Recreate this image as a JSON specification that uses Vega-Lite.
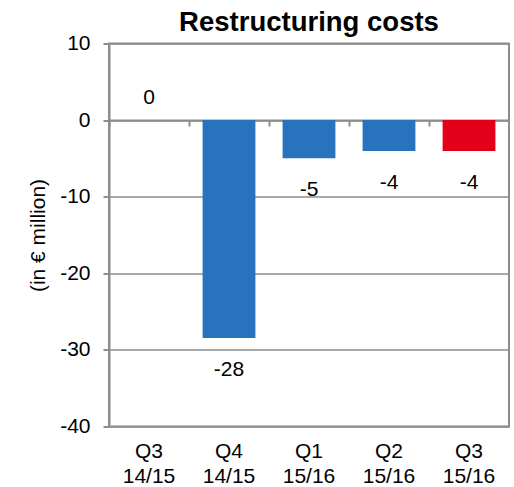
{
  "$schema": "https://vega.github.io/schema/vega-lite/v6.json",
  "autosize": "none",
  "width": 400,
  "height": 383,
  "padding": {"left": 109, "top": 43.5, "right": 5, "bottom": 60.5},
  "config": {
    "font": "Liberation Sans",
    "view": {"stroke": "#8c8c8c", "strokeWidth": 2}
  },
  "title": {
    "text": "Restructuring costs",
    "fontSize": 27.5,
    "fontWeight": "bold",
    "font": "Liberation Sans",
    "color": "#000000",
    "offset": 6,
    "dy": 10,
    "anchor": "middle"
  },
  "data": {
    "values": [
      {"q": "Q3 14/15", "v": 0, "label": "0", "grp": "past"},
      {"q": "Q4 14/15", "v": -28.45, "label": "-28", "grp": "past"},
      {"q": "Q1 15/16", "v": -4.97, "label": "-5", "grp": "past"},
      {"q": "Q2 15/16", "v": -4.05, "label": "-4", "grp": "past"},
      {"q": "Q3 15/16", "v": -4.05, "label": "-4", "grp": "current"}
    ]
  },
  "resolve": {"axis": {"x": "independent"}},
  "layer": [
    {
      "mark": {"type": "bar"},
      "encoding": {
        "x": {
          "field": "q", "type": "nominal", "sort": null,
          "scale": {"paddingInner": 0.34, "paddingOuter": 0.17},
          "axis": {
            "orient": "bottom",
            "title": null, "domain": false, "ticks": false, "labelAngle": 0,
            "labelExpr": "split(datum.label, ' ')",
            "labelFontSize": 21, "labelColor": "#000000", "labelPadding": 14,
            "labelLineHeight": 25, "labelBaseline": "top"
          }
        },
        "y": {
          "field": "v", "type": "quantitative",
          "scale": {"domain": [-40, 10], "nice": false, "zero": false},
          "axis": {
            "title": "(in € million)", "titleFontSize": 21, "titleFontWeight": "normal",
            "titleColor": "#000000", "titlePadding": 11,
            "values": [-40, -30, -20, -10, 0, 10],
            "labelExpr": "toString(datum.value)",
            "labelFontSize": 21, "labelColor": "#000000", "labelPadding": 13,
            "tickSize": 6, "tickColor": "#8c8c8c", "tickWidth": 2,
            "domainColor": "#8c8c8c", "domainWidth": 2,
            "grid": true, "gridColor": "#8c8c8c", "gridWidth": 1.5
          }
        },
        "color": {
          "field": "grp", "type": "nominal", "legend": null,
          "scale": {"domain": ["past", "current"], "range": ["#2873be", "#e2001a"]}
        }
      }
    },
    {
      "mark": {"type": "rule", "color": "#8c8c8c", "strokeWidth": 2},
      "encoding": {
        "x": {
          "field": "q", "type": "nominal", "sort": null,
          "axis": {
            "orient": "bottom",
            "title": null, "labels": false, "offset": -306.4,
            "domain": true, "domainColor": "#8c8c8c", "domainWidth": 2,
            "ticks": true, "tickOffset": -40, "tickSize": 6,
            "tickColor": "#8c8c8c", "tickWidth": 2
          }
        },
        "y": {"datum": 0, "type": "quantitative"},
        "opacity": {"value": 0}
      }
    },
    {
      "transform": [{"filter": "datum.v >= 0"}],
      "mark": {"type": "text", "fontSize": 21, "dy": -22, "color": "#000000"},
      "encoding": {
        "x": {"field": "q", "type": "nominal", "sort": null, "axis": null},
        "y": {"field": "v", "type": "quantitative"},
        "text": {"field": "label"}
      }
    },
    {
      "transform": [{"filter": "datum.v < 0"}],
      "mark": {"type": "text", "fontSize": 21, "dy": 32, "color": "#000000"},
      "encoding": {
        "x": {"field": "q", "type": "nominal", "sort": null, "axis": null},
        "y": {"field": "v", "type": "quantitative"},
        "text": {"field": "label"}
      }
    }
  ]
}
